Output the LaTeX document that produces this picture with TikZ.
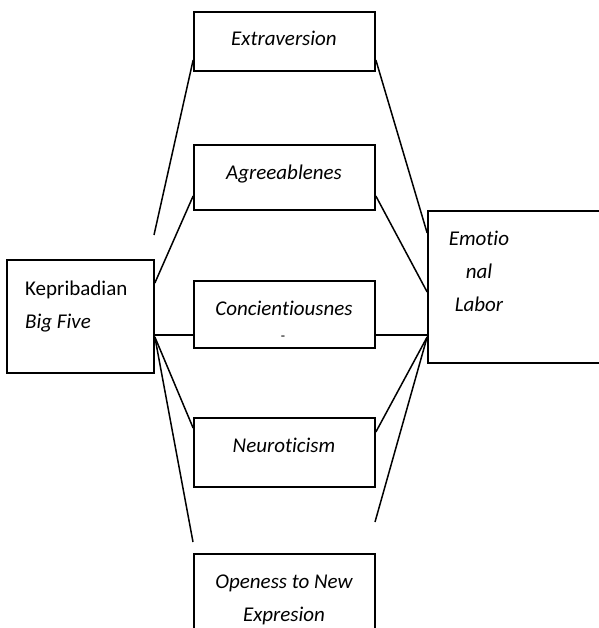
\documentclass[tikz,border=0pt]{standalone}
\usepackage{fontspec}
\setmainfont[Ligatures={NoCommon}]{Carlito}
\begin{document}
\begin{tikzpicture}[x=1pt,y=-1pt,
  box/.style={draw,line width=1.7pt,rectangle,inner sep=0pt},
  lbl/.style={anchor=base,inner sep=0pt,font=\fontsize{21}{25}\selectfont\itshape},
  conn/.style={line width=1.5pt}]
\useasboundingbox[fill=white] (0,0) rectangle (598,628);
% boxes
\node[box,minimum width=181pt,minimum height=59pt] (ext) at (284.5,41.5) {};
\node[box,minimum width=181pt,minimum height=65pt] (agr) at (284.5,177.5) {};
\node[box,minimum width=181pt,minimum height=67pt] (con) at (284.5,314.5) {};
\node[box,minimum width=181pt,minimum height=69pt] (neu) at (284.5,452.5) {};
\node[box,minimum width=181pt,minimum height=86pt] (ope) at (284.5,597) {};
\node[box,minimum width=147pt,minimum height=113pt] (kep) at (80.5,316.5) {};
\node[box,minimum width=192pt,minimum height=152pt] (emo) at (524,287) {};
% texts
\node[lbl] (t1) at (284,45.5) {Extraversion};
\node[lbl] (t2) at (284,180) {Agreeablenes};
\node[lbl] (t3) at (284,315) {Concientiousnes};
\node[lbl,font=\fontsize{14}{16}\selectfont] (t3b) at (283,340) {-};
\node[lbl] (t4) at (284,452) {Neuroticism};
\node[lbl] (t5a) at (284,588) {Openess to New};
\node[lbl] (t5b) at (284,621) {Expresion};
\node[lbl,anchor=base west,font=\fontsize{21}{25}\selectfont] (k1) at (25,295) {Kepribadian};
\node[lbl,anchor=base west] (k2) at (25,328) {Big Five};
\node[lbl] (e1) at (479,245) {Emotio};
\node[lbl] (e2) at (479,278) {nal};
\node[lbl] (e3) at (479,311) {Labor};
% free ends
\coordinate (f1) at (154,235);
\coordinate (f2) at (193,542);
\coordinate (f3) at (375,522);
% connectors
\draw[conn] ([yshift=-18.5pt]ext.west) -- (f1);
\draw[conn] ([yshift=-18.5pt]ext.east) -- ([yshift=54pt]emo.west);
\draw[conn] ([yshift=33.5pt]kep.east) -- ([yshift=-18.5pt]agr.west);
\draw[conn] ([yshift=-18.5pt]agr.east) -- ([yshift=-5pt]emo.west);
\draw[conn] ([yshift=-18.5pt]kep.east) -- ([yshift=-20.5pt]con.west);
\draw[conn] ([yshift=-20.5pt]con.east) -- ([yshift=-48pt]emo.west);
\draw[conn] ([yshift=-20.5pt]kep.east) -- ([yshift=24.5pt]neu.west);
\draw[conn] ([yshift=-20.5pt]kep.east) -- (f2);
\draw[conn] ([yshift=-50pt]emo.west) -- ([yshift=20.5pt]neu.east);
\draw[conn] ([yshift=-50pt]emo.west) -- (f3);
\end{tikzpicture}
\end{document}
